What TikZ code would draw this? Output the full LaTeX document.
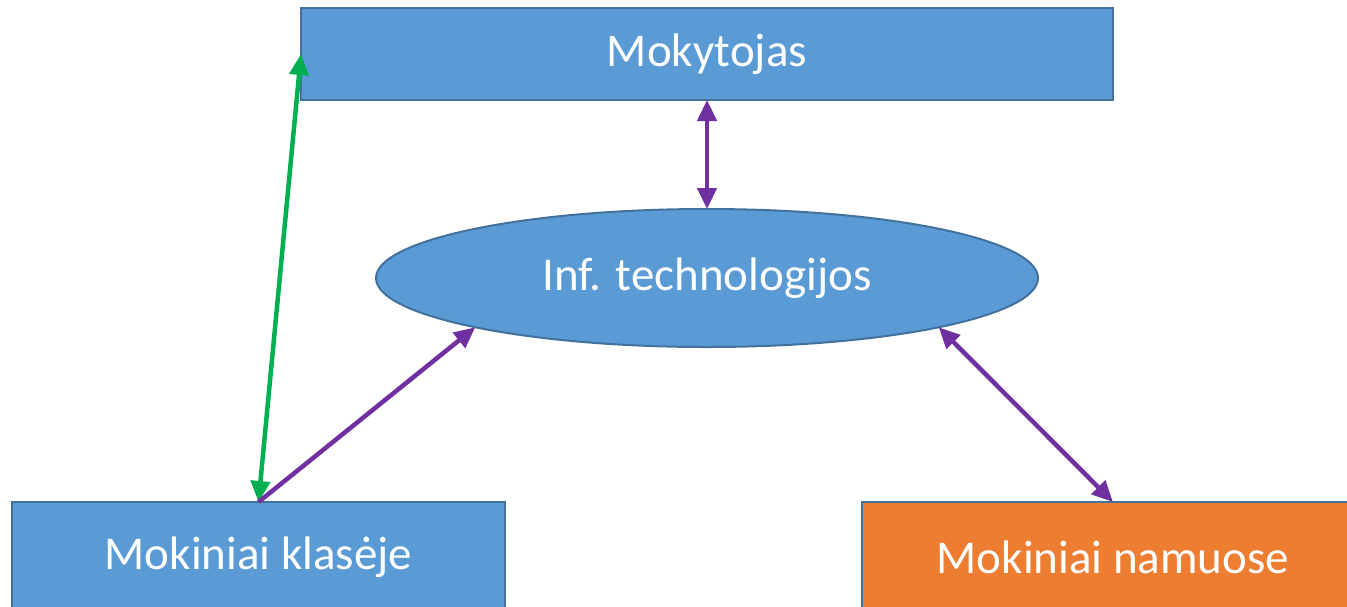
\documentclass[tikz,border=0pt]{standalone}
\usepackage{fontspec}
\setmainfont{Carlito}
\usetikzlibrary{shapes.geometric,arrows.meta}
\definecolor{boxblue}{HTML}{5B9BD5}
\definecolor{edgeblue}{HTML}{41719C}
\definecolor{boxorange}{HTML}{ED7D31}
\definecolor{arrpurple}{HTML}{7030A0}
\definecolor{arrgreen}{HTML}{00B050}
\tikzset{
  lbl/.style={text=white,font=\fontsize{47}{56}\selectfont,inner sep=0pt,outer sep=0pt,draw=edgeblue,line width=2pt},
  bluebox/.style={lbl,rectangle,fill=boxblue},
  orangebox/.style={lbl,rectangle,fill=boxorange},
  blueell/.style={lbl,ellipse,fill=boxblue},
  dbl/.style={line width=4.5pt,{Triangle[length=21pt,width=19pt]}-{Triangle[length=21pt,width=19pt]}},
  sgl/.style={line width=4.5pt,-{Triangle[length=21pt,width=19pt]}},
}
\begin{document}
\begin{tikzpicture}[x=1pt,y=-1pt]
\useasboundingbox (0,0) rectangle (1347,606);
\clip (0,0) rectangle (1347,606);
\node[bluebox,minimum width=812pt,minimum height=92pt] (mok) at (707,54) {Mokytojas};
\node[blueell,minimum width=662pt,minimum height=138pt] (it) at (707,278) {Inf. technologijos};
\node[bluebox,minimum width=493pt,minimum height=110pt] (kl) at (258.5,557) {Mokiniai klasėje};
\node[orangebox,minimum width=502pt,minimum height=110pt] (nam) at (1113,557) {Mokiniai namuose};
\draw[dbl,arrgreen] (kl.north) -- (mok.west);
\draw[sgl,arrpurple] (kl.north) -- (it.192.6);
\draw[dbl,arrpurple] (mok.south) -- (it.north);
\draw[dbl,arrpurple] (it.348.6) -- (nam.north);
\end{tikzpicture}
\end{document}
